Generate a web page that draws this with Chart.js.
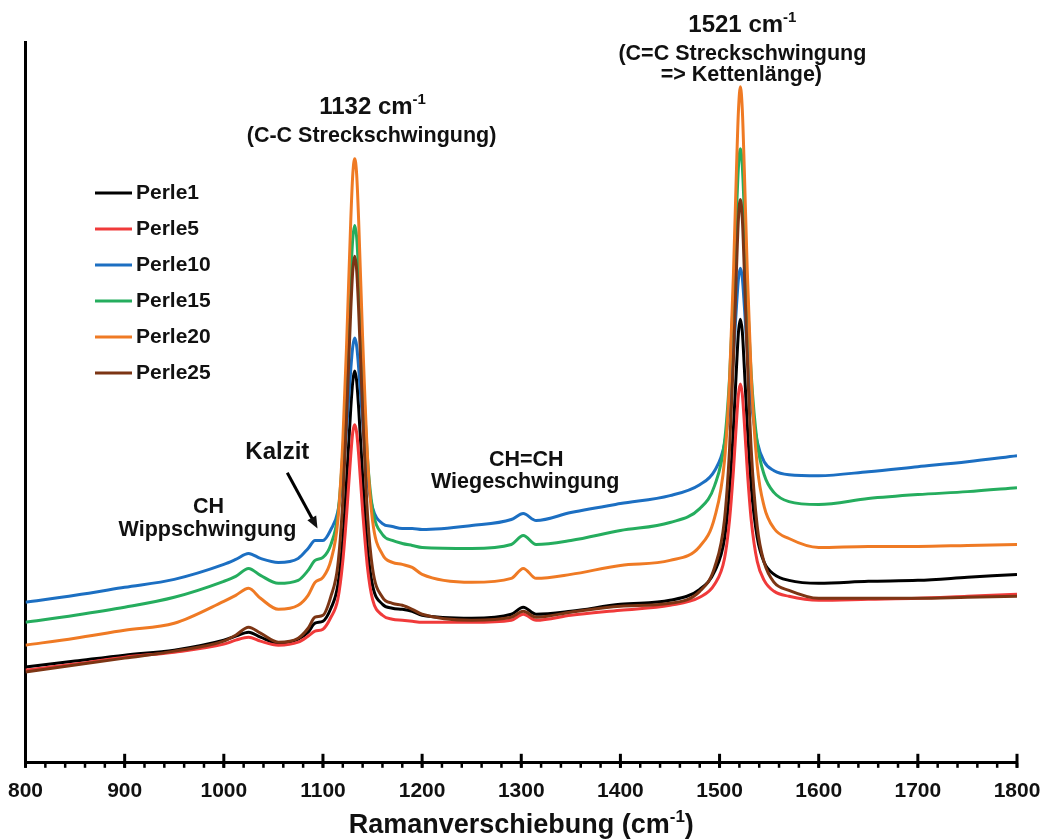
<!DOCTYPE html>
<html>
<head>
<meta charset="utf-8">
<script src="https://cdn.jsdelivr.net/npm/chart.js@4/dist/chart.umd.min.js"></script>
<style>
  html, body { margin: 0; padding: 0; background: #fff; }
  canvas { display: block; }
</style>
</head>
<body>
<canvas id="raman" width="1053" height="839"></canvas>
<script>
// Ramanverschiebung (cm-1), gemeinsame Stützstellen aller Spektren
const wavenumbers = [800, 850, 900, 950, 1000, 1012, 1025, 1037, 1055, 1075, 1085, 1092, 1100,
  1108, 1115, 1120, 1124, 1128, 1130, 1132, 1134, 1136, 1140, 1145, 1150, 1160, 1170, 1180, 1190, 1200,
  1250, 1290, 1302, 1315, 1350, 1400, 1450,
  1480, 1495, 1505, 1510, 1514, 1517, 1519, 1521, 1523, 1525, 1528, 1532, 1538, 1545, 1555, 1570,
  1600, 1650, 1700, 1750, 1800];

// Intensitäten (willkürliche Einheiten)
const perle1 = [96, 102, 108, 113, 123, 127, 131, 126, 120, 124, 131, 140, 142,
  155, 178, 224, 285, 355, 382, 393, 383, 356, 287, 215, 178, 159, 155, 154, 152, 148,
  145, 149, 156, 149, 152, 159, 163,
  174, 192, 225, 272, 335, 395, 431, 445, 432, 396, 338, 276, 226, 201, 189, 183,
  180, 182, 183, 186, 189];
const perle5 = [93, 99, 106, 111, 119, 123, 126, 122, 118, 121, 127, 132, 134,
  146, 164, 202, 251, 308, 331, 339, 331, 309, 253, 195, 164, 148, 144, 143, 142, 141,
  141, 143, 149, 143, 148, 153, 158,
  166, 179, 205, 243, 293, 341, 369, 380, 369, 341, 293, 243, 202, 183, 172, 167,
  163, 164, 165, 167, 169];
const perle10 = [161, 168, 176, 184, 199, 204, 210, 205, 201, 205, 215, 223, 223,
  234, 252, 288, 337, 394, 417, 426, 418, 396, 342, 284, 256, 240, 237, 235, 235, 234,
  238, 244, 250, 243, 251, 260, 268,
  279, 293, 320, 358, 409, 457, 485, 496, 486, 458, 412, 362, 322, 302, 293, 289,
  288, 292, 297, 302, 308];
const perle15 = [141, 148, 156, 166, 182, 187, 195, 188, 180, 183, 193, 203, 206,
  219, 249, 311, 392, 487, 525, 539, 527, 491, 399, 304, 255, 229, 223, 220, 218, 216,
  215, 219, 228, 219, 223, 233, 241,
  255, 278, 322, 385, 469, 550, 597, 616, 598, 551, 472, 389, 321, 289, 271, 262,
  259, 265, 269, 272, 276];
const perle20 = [118, 125, 133, 140, 162, 168, 175, 165, 154, 158, 168, 181, 186,
  203, 243, 322, 424, 543, 589, 606, 590, 544, 426, 306, 243, 209, 201, 199, 196, 189,
  181, 185, 195, 185, 189, 198, 203,
  217, 246, 303, 382, 490, 593, 653, 678, 654, 594, 492, 386, 298, 257, 235, 225,
  216, 217, 217, 218, 219];
const perle25 = [91, 98, 105, 112, 122, 128, 136, 130, 121, 125, 135, 146, 148,
  167, 198, 263, 351, 453, 493, 508, 494, 454, 353, 248, 195, 166, 160, 158, 154, 149,
  143, 146, 152, 146, 151, 157, 160,
  172, 196, 244, 313, 405, 493, 545, 565, 545, 493, 405, 313, 237, 201, 181, 173,
  165, 165, 165, 166, 167];

const seriesNames = ['Perle1', 'Perle5', 'Perle10', 'Perle15', 'Perle20', 'Perle25'];
const seriesValues = [perle1, perle5, perle10, perle15, perle20, perle25];
const seriesColors = ['#000000', '#f03a3a', '#1c6fc2', '#25ad5e', '#ef7a24', '#7c3514'];

const xTicks = [800, 900, 1000, 1100, 1200, 1300, 1400, 1500, 1600, 1700, 1800];
const minorStep = 20;

const FONT = '"Liberation Sans", Arial, Helvetica, sans-serif';

// Beschriftungen im Diagramm, verankert in Datenkoordinaten
const notes = [
  { parts: [['1132 cm', 24], ['-1', 15, 10]], x: 1150, y: 651 },
  { parts: [['(C-C Streckschwingung)', 21.5]], x: 1149, y: 623 },
  { parts: [['1521 cm', 24], ['-1', 15, 10]], x: 1523, y: 733 },
  { parts: [['(C=C Streckschwingung', 21.5]], x: 1523, y: 705 },
  { parts: [['=> Kettenlänge)', 21.5]], x: 1522, y: 684 },
  { parts: [['Kalzit', 24]], x: 1054, y: 305 },
  { parts: [['CH', 21.5]], x: 984.5, y: 251 },
  { parts: [['Wippschwingung', 21.5]], x: 983.5, y: 227 },
  { parts: [['CH=CH', 21.5]], x: 1305, y: 298 },
  { parts: [['Wiegeschwingung', 21.5]], x: 1304, y: 276 }
];
const kalzitArrow = { from: [1064, 291], to: [1094.5, 235] };

function drawParts(ctx, parts, cx, by) {
  let w = 0;
  parts.forEach(p => {
    ctx.font = `bold ${p[1]}px ${FONT}`;
    w += ctx.measureText(p[0]).width;
  });
  let xx = cx - w / 2;
  parts.forEach(p => {
    ctx.font = `bold ${p[1]}px ${FONT}`;
    ctx.fillText(p[0], xx, by - (p[2] || 0));
    xx += ctx.measureText(p[0]).width;
  });
}

const decorations = {
  id: 'decorations',
  afterDraw(chart) {
    const { ctx, chartArea, scales: { x, y } } = chart;
    const bottom = chartArea.bottom;
    ctx.save();
    ctx.strokeStyle = '#000';
    ctx.lineCap = 'butt';

    // Achsenstriche: Haupt- und Nebenteilung
    ctx.lineWidth = 2.5;
    for (let v = x.min; v <= x.max; v += minorStep) {
      const px = x.getPixelForValue(v);
      ctx.beginPath();
      ctx.moveTo(px, bottom);
      ctx.lineTo(px, bottom + 5);
      ctx.stroke();
    }
    ctx.lineWidth = 3;
    xTicks.forEach(v => {
      const px = x.getPixelForValue(v);
      ctx.beginPath();
      ctx.moveTo(px, bottom - 9);
      ctx.lineTo(px, bottom + 5);
      ctx.stroke();
    });

    // Textbeschriftungen
    ctx.fillStyle = '#111';
    ctx.textBaseline = 'alphabetic';
    ctx.textAlign = 'left';
    notes.forEach(n => {
      drawParts(ctx, n.parts, x.getPixelForValue(n.x), y.getPixelForValue(n.y));
    });

    // Pfeil zum Kalzit-Signal
    const x0 = x.getPixelForValue(kalzitArrow.from[0]);
    const y0 = y.getPixelForValue(kalzitArrow.from[1]);
    const x1 = x.getPixelForValue(kalzitArrow.to[0]);
    const y1 = y.getPixelForValue(kalzitArrow.to[1]);
    const ang = Math.atan2(y1 - y0, x1 - x0);
    const head = 12;
    ctx.lineWidth = 3;
    ctx.beginPath();
    ctx.moveTo(x0, y0);
    ctx.lineTo(x1 - Math.cos(ang) * head * 0.8, y1 - Math.sin(ang) * head * 0.8);
    ctx.stroke();
    ctx.beginPath();
    ctx.moveTo(x1, y1);
    ctx.lineTo(x1 - head * Math.cos(ang) + 5 * Math.sin(ang), y1 - head * Math.sin(ang) - 5 * Math.cos(ang));
    ctx.lineTo(x1 - head * Math.cos(ang) - 5 * Math.sin(ang), y1 - head * Math.sin(ang) + 5 * Math.cos(ang));
    ctx.closePath();
    ctx.fill();

    // Legende
    ctx.textBaseline = 'middle';
    chart.data.datasets.forEach((ds, i) => {
      const ly = 193 + i * 36;
      ctx.strokeStyle = ds.borderColor;
      ctx.lineWidth = 3;
      ctx.beginPath();
      ctx.moveTo(95, ly);
      ctx.lineTo(132, ly);
      ctx.stroke();
      ctx.fillStyle = '#111';
      ctx.font = `bold 21px ${FONT}`;
      ctx.fillText(ds.label, 136, ly);
    });

    // Achsentitel
    ctx.textBaseline = 'alphabetic';
    drawParts(ctx, [['Ramanverschiebung (cm', 27], ['-1', 17, 11], [')', 27]],
      (chartArea.left + chartArea.right) / 2, 833);
    ctx.restore();
  }
};

const ctx = document.getElementById('raman').getContext('2d');
const chart = new Chart(ctx, {
  type: 'line',
  data: {
    datasets: seriesNames.map((name, i) => ({
      label: name,
      data: wavenumbers.map((w, k) => ({ x: w, y: seriesValues[i][k] })),
      borderColor: seriesColors[i],
      backgroundColor: seriesColors[i],
      borderWidth: 3,
      pointRadius: 0,
      cubicInterpolationMode: 'monotone',
      fill: false,
      order: seriesNames.length - i
    }))
  },
  options: {
    responsive: false,
    animation: false,
    devicePixelRatio: 1,
    layout: { padding: { left: 17, right: 36, top: 42, bottom: 27 } },
    plugins: {
      legend: { display: false },
      tooltip: { enabled: false }
    },
    scales: {
      x: {
        type: 'linear',
        min: 800,
        max: 1800,
        grid: { display: false },
        border: { display: true, color: '#000', width: 3 },
        ticks: {
          stepSize: 100,
          autoSkip: false,
          maxRotation: 0,
          padding: 8,
          color: '#111',
          font: { family: FONT, size: 21, weight: 'bold' },
          callback: v => String(v)
        }
      },
      y: {
        type: 'linear',
        min: 0,
        max: 723,
        grid: { display: false },
        border: { display: true, color: '#000', width: 3 },
        ticks: { display: false }
      }
    }
  },
  plugins: [decorations]
});
</script>
</body>
</html>
